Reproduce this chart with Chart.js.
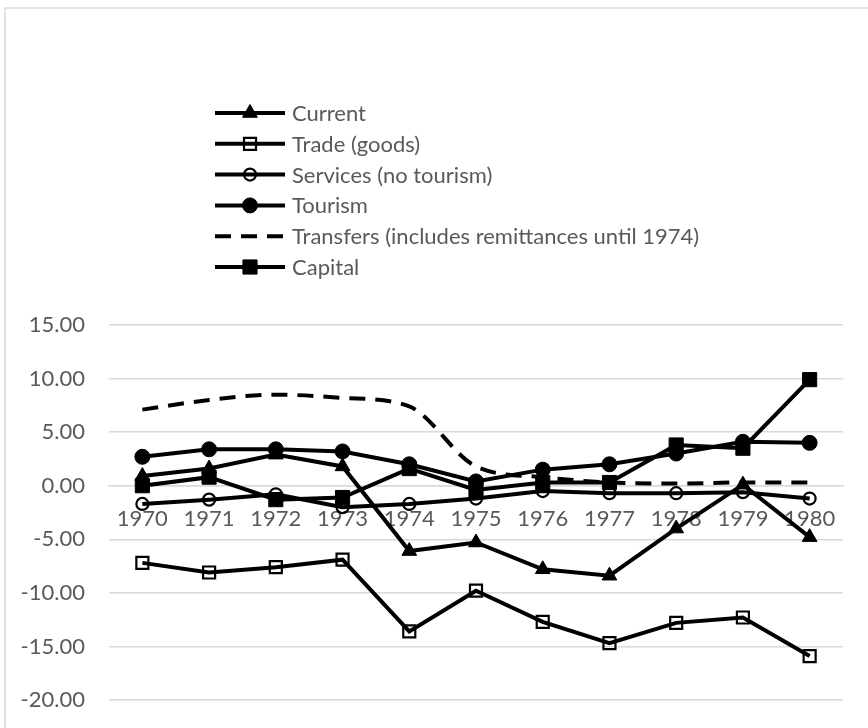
<!DOCTYPE html>
<html>
<head>
<meta charset="utf-8">
<title>Balance of payments components, 1970–1980</title>
<script src="https://cdn.jsdelivr.net/npm/chart.js@4/dist/chart.umd.min.js"></script>
<style>
  html, body { margin: 0; padding: 0; background: #ffffff; }
  #wrap { width: 868px; height: 728px; }
</style>
</head>
<body>
<div id="wrap"><canvas id="chart" width="868" height="728"></canvas></div>
<script>
// Categories and series
const years = ['1970', '1971', '1972', '1973', '1974', '1975', '1976', '1977', '1978', '1979', '1980'];
const current   = [0.9, 1.6, 2.9, 1.8, -6.1, -5.3, -7.8, -8.4, -4.0, 0.1, -4.8];
const trade     = [-7.2, -8.1, -7.6, -6.9, -13.6, -9.8, -12.7, -14.7, -12.8, -12.3, -15.9];
const services  = [-1.7, -1.3, -0.8, -2.0, -1.7, -1.2, -0.5, -0.7, -0.7, -0.6, -1.2];
const tourism   = [2.7, 3.4, 3.4, 3.2, 2.0, 0.4, 1.5, 2.0, 3.0, 4.1, 4.0];
const transfers = [7.1, 8.0, 8.5, 8.2, 7.4, 1.8, 0.8, 0.3, 0.2, 0.3, 0.3];
const capital   = [0.0, 0.8, -1.3, -1.1, 1.6, -0.4, 0.3, 0.3, 3.8, 3.5, 9.9];

// Value axis range and tick step
const yMin = -20;
const yMax = 15;
const yStep = 5;

const seriesNames = [
  'Current',
  'Trade (goods)',
  'Services (no tourism)',
  'Tourism',
  'Transfers (includes remittances until 1974)',
  'Capital'
];

const INK = '#000000';
const TEXT = '#595959';
const GRID = '#d9d9d9';
const FONT = 'Lato, "Open Sans", sans-serif';
const FONT_SIZE = 22;
const LW = 4;

function lineSeries(label, data, extra) {
  return Object.assign({
    label: label,
    data: data,
    borderColor: INK,
    borderWidth: LW,
    tension: 0,
    pointBorderColor: INK,
    pointBackgroundColor: INK,
    pointBorderWidth: 1,
    pointHoverRadius: 0
  }, extra);
}

const datasets = [
  lineSeries(seriesNames[0], current,   { pointStyle: 'triangle', pointRadius: 8.5 }),
  lineSeries(seriesNames[1], trade,     { pointStyle: 'rect', pointRadius: 8.5, pointBackgroundColor: 'rgba(0,0,0,0)', pointBorderWidth: 2.2 }),
  lineSeries(seriesNames[2], services,  { pointStyle: 'circle', pointRadius: 6, pointBackgroundColor: 'rgba(0,0,0,0)', pointBorderWidth: 2.2 }),
  lineSeries(seriesNames[3], tourism,   { pointStyle: 'circle', pointRadius: 7.5 }),
  lineSeries(seriesNames[4], transfers, { pointRadius: 0, borderDash: [16, 10], cubicInterpolationMode: 'monotone' }),
  lineSeries(seriesNames[5], capital,   { pointStyle: 'rect', pointRadius: 10 })
];

// Frame of the chart area (left and top edges fall inside the canvas)
const framePlugin = {
  id: 'frame',
  beforeDraw(chart) {
    const ctx = chart.ctx;
    ctx.save();
    ctx.fillStyle = '#ffffff';
    ctx.fillRect(0, 0, chart.width, chart.height);
    ctx.strokeStyle = GRID;
    ctx.lineWidth = 1.5;
    ctx.strokeRect(5, 8, chart.width + 20, chart.height + 20);
    ctx.restore();
  }
};

// Vertical legend list with line + marker samples
const listLegend = {
  id: 'listLegend',
  afterDraw(chart, args, opts) {
    const ctx = chart.ctx;
    const drawPoint = Chart.helpers && Chart.helpers.drawPoint;
    ctx.save();
    chart.data.datasets.forEach((ds, i) => {
      const y = opts.top + i * opts.rowGap;
      ctx.beginPath();
      ctx.setLineDash(ds.borderDash || []);
      ctx.strokeStyle = ds.borderColor;
      ctx.lineWidth = ds.borderWidth;
      ctx.moveTo(opts.x0, y);
      ctx.lineTo(opts.x1, y);
      ctx.stroke();
      ctx.setLineDash([]);
      if (ds.pointRadius > 0 && drawPoint) {
        ctx.fillStyle = ds.pointBackgroundColor;
        ctx.strokeStyle = ds.pointBorderColor;
        ctx.lineWidth = ds.pointBorderWidth;
        drawPoint(ctx, { pointStyle: ds.pointStyle, radius: ds.pointRadius, rotation: 0, borderWidth: ds.pointBorderWidth }, (opts.x0 + opts.x1) / 2, y);
      }
      ctx.fillStyle = TEXT;
      ctx.font = FONT_SIZE + 'px ' + FONT;
      ctx.textBaseline = 'middle';
      ctx.textAlign = 'left';
      ctx.fillText(ds.label, opts.textX, y + 1);
    });
    ctx.restore();
  }
};

new Chart(document.getElementById('chart'), {
  type: 'line',
  data: { labels: years, datasets: datasets },
  plugins: [framePlugin, listLegend],
  options: {
    responsive: false,
    animation: false,
    events: [],
    layout: { padding: { top: 325, right: 25, bottom: 28, left: 0 } },
    plugins: {
      legend: { display: false },
      tooltip: { enabled: false },
      listLegend: { top: 113, rowGap: 30.8, x0: 215, x1: 285, textX: 292 }
    },
    scales: {
      x: {
        position: { y: 0 },
        offset: true,
        grid: { display: false, drawTicks: false },
        border: { display: true, color: GRID, width: 1.5 },
        ticks: { color: TEXT, font: { family: FONT, size: FONT_SIZE }, padding: 20, maxRotation: 0, autoSkip: false }
      },
      y: {
        min: yMin,
        max: yMax,
        afterFit(scale) { scale.width = 109; },
        // label gap comes from an invisible tick mark, so it adds no vertical padding
        grid: { color: GRID, lineWidth: 1.5, drawTicks: true, tickLength: 24, tickColor: 'rgba(0,0,0,0)' },
        border: { display: false },
        ticks: {
          stepSize: yStep,
          color: TEXT,
          font: { family: FONT, size: FONT_SIZE },
          padding: 0,
          callback: (v) => Number(v).toFixed(2)
        }
      }
    }
  }
});
</script>
</body>
</html>
